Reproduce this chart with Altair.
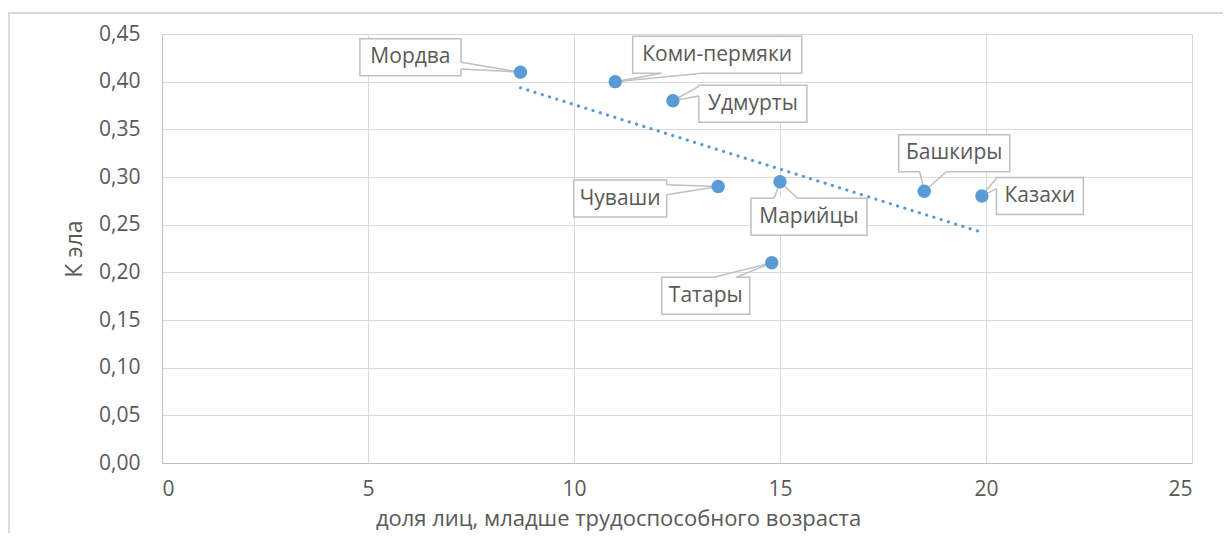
import altair as alt
import pandas as pd

# ---- data ----
names = ["Мордва", "Коми-пермяки", "Удмурты", "Чуваши", "Марийцы", "Татары", "Башкиры", "Казахи"]
share_young = [8.7, 11.0, 12.4, 13.5, 15.0, 14.8, 18.5, 19.9]
k_ela = [0.41, 0.40, 0.38, 0.29, 0.295, 0.21, 0.285, 0.28]

x_ticks = [0, 5, 10, 15, 20, 25]
y_ticks = [0.0, 0.05, 0.10, 0.15, 0.20, 0.25, 0.30, 0.35, 0.40, 0.45]

# ---- callout layout (pixel offsets of the box centre from its point) ----
label_dx = [-110, 102, 80, -98, 29, -66, 30, 58]
label_dy = [-15, -27, 3, 12, 35, 33, -38, 0]
box_w = [101, 169, 108, 93, 116, 88, 111, 87]
BOX_H = 37
wedge_side = ["r", "b", "l", "r", "t", "t", "b", "l"]
wedge_a = [0.64, 0.17, 0.03, 0.13, 0.20, 0.59, 0.19, 0.02]
wedge_b = [0.82, 0.41, 0.29, 0.40, 0.40, 0.85, 0.43, 0.30]

W, H = 1030, 429
XMAX, YMAX = x_ticks[-1], y_ticks[-1]

TEXT = "#595959"
GRID = "#d9d9d9"
BLUE = "#5b9bd5"
BOXLINE = "#bfbfbf"
FONT = "Open Sans"


def to_px(x, y):
    return x / XMAX * W, H - y / YMAX * H


def to_data(px, py):
    return px / W * XMAX, (H - py) / H * YMAX


pts = pd.DataFrame({"name": names, "x": share_young, "y": k_ela})

boxes, wedges, covers = [], [], []
for i, n in enumerate(names):
    px, py = to_px(share_young[i], k_ela[i])
    cx, cy = px + label_dx[i], py + label_dy[i]
    l, r = cx - box_w[i] / 2, cx + box_w[i] / 2
    t, b = cy - BOX_H / 2, cy + BOX_H / 2
    x1, y1 = to_data(l, t)
    x2, y2 = to_data(r, b)
    tx, ty = to_data(cx, cy)
    boxes.append({"name": n, "x": x1, "x2": x2, "y": y1, "y2": y2, "tx": tx, "ty": ty})
    s, a, bb = wedge_side[i], wedge_a[i], wedge_b[i]
    if s == "r":
        base = [(r, t + a * BOX_H), (r, t + bb * BOX_H)]
    elif s == "l":
        base = [(l, t + a * BOX_H), (l, t + bb * BOX_H)]
    elif s == "t":
        base = [(l + a * box_w[i], t), (l + bb * box_w[i], t)]
    else:
        base = [(l + a * box_w[i], b), (l + bb * box_w[i], b)]
    (b1x, b1y), (b2x, b2y) = to_data(*base[0]), to_data(*base[1])
    covers.append({"x": b1x, "y": b1y, "x2": b2x, "y2": b2y})
    for bx, by in ((b1x, b1y), (b2x, b2y)):
        wedges.append({"x": bx, "y": by, "x2": share_young[i], "y2": k_ela[i]})

boxes = pd.DataFrame(boxes)
wedges = pd.DataFrame(wedges)
covers = pd.DataFrame(covers)

xscale = alt.Scale(domain=[0, XMAX], nice=False, zero=True)
yscale = alt.Scale(domain=[0, YMAX], nice=False, zero=True)

x_axis = alt.Axis(
    values=x_ticks, grid=True, gridColor=GRID, domainColor=BOXLINE, ticks=False,
    labelFontSize=21, labelColor=TEXT, labelFont=FONT, labelPadding=15,
    title="доля лиц, младше трудоспособного возраста", titleFontSize=22,
    titleColor=TEXT, titleFont=FONT, titleFontWeight="normal", titlePadding=9,
    titleX=456,
)
y_axis = alt.Axis(
    values=y_ticks, grid=True, gridColor=GRID, domainColor=BOXLINE, ticks=False,
    labelFontSize=21, labelColor=TEXT, labelFont=FONT, labelPadding=22,
    labelExpr="replace(format(datum.value, '.2f'), '.', ',')",
    title="К эла", titleFontSize=23, titleColor=TEXT, titleFont=FONT,
    titleFontWeight="normal", titlePadding=12,
)

base_pts = alt.Chart(pts)

trend = base_pts.mark_line(
    color=BLUE, strokeWidth=3.2, strokeDash=[0.1, 7.5], strokeCap="round"
).encode(
    x=alt.X("x:Q", scale=xscale, axis=x_axis),
    y=alt.Y("y:Q", scale=yscale, axis=y_axis),
).transform_regression("x", "y", method="linear")

rects = alt.Chart(boxes).mark_rect(
    fill="white", stroke=BOXLINE, strokeWidth=1.5
).encode(
    x=alt.X("x:Q", scale=xscale), x2="x2", y=alt.Y("y:Q", scale=yscale), y2="y2"
)

cover = alt.Chart(covers).mark_rule(color="white", strokeWidth=2.5).encode(
    x=alt.X("x:Q", scale=xscale), x2="x2", y=alt.Y("y:Q", scale=yscale), y2="y2"
)

wedge = alt.Chart(wedges).mark_rule(color=BOXLINE, strokeWidth=1.5).encode(
    x=alt.X("x:Q", scale=xscale), x2="x2", y=alt.Y("y:Q", scale=yscale), y2="y2"
)

points = base_pts.mark_circle(size=180, color=BLUE, opacity=1).encode(
    x=alt.X("x:Q", scale=xscale), y=alt.Y("y:Q", scale=yscale)
)

labels = alt.Chart(boxes).mark_text(
    font=FONT, fontSize=21, color=TEXT, align="center", baseline="middle"
).encode(
    x=alt.X("tx:Q", scale=xscale), y=alt.Y("ty:Q", scale=yscale), text="name:N"
)

frame_top = alt.Chart(pts).mark_rule(color=GRID, strokeWidth=1.5).encode(
    x=alt.value(-153.5), x2=alt.value(1080), y=alt.value(-21)
)
frame_left = alt.Chart(pts).mark_rule(color=GRID, strokeWidth=1.5).encode(
    x=alt.value(-153.5), y=alt.value(-21), y2=alt.value(520)
)

chart = alt.layer(
    frame_top, frame_left, trend, rects, cover, wedge, points, labels
).properties(
    width=W, height=H,
    autosize=alt.AutoSizeParams(type="none"),
    padding={"left": 154, "top": 26, "right": 31, "bottom": 70},
).configure_view(strokeWidth=0).configure(background="white")

chart.save("out.html", embed_options={"renderer": "svg", "actions": False})
